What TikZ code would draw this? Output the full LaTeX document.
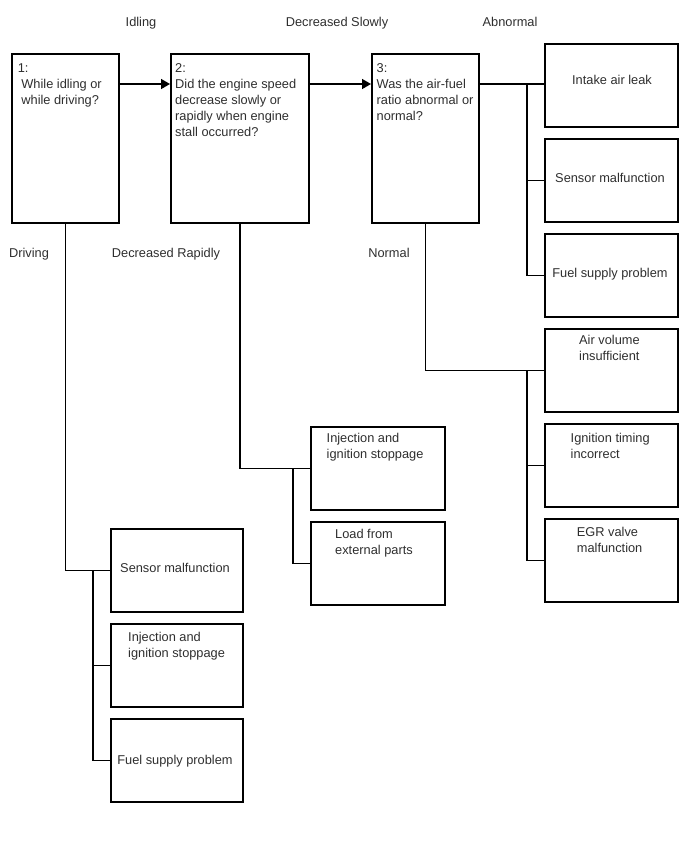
\documentclass[tikz,border=0pt]{standalone}
\usepackage{fontspec}
\setmainfont{Liberation Sans}
\usetikzlibrary{arrows.meta}
\begin{document}
\begin{tikzpicture}[x=1pt,y=-1pt,
  box/.style={draw=black, line width=1.8pt, inner sep=0pt, anchor=north west},
  qbox/.style={box, minimum width=107pt, minimum height=169pt},
  rbox/.style={box, minimum width=133pt, minimum height=83pt},
  mbox/.style={box, minimum width=134pt, minimum height=83pt},
  lbox/.style={box, minimum width=132pt, minimum height=83pt},
  txt/.style={text=black!82, inner sep=0pt, font=\fontsize{12.8}{16}\selectfont},
  ctxt/.style={txt, anchor=base},
  ltxt/.style={txt, anchor=base west, align=left},
  conn/.style={draw=black, line width=1.5pt},
  arr/.style={conn, -{Triangle[length=9pt,width=10pt]}}
]
\useasboundingbox (0,0) rectangle (688,852);
% question boxes
\node[qbox] (b1) at (11,53) {};
\node[qbox, minimum width=138pt] (b2) at (170,53) {};
\node[qbox] (b3) at (371,53) {};
% right column
\node[rbox] (ia) at (544,43) {};
\node[rbox] (sm) at (544,138) {};
\node[rbox] (fs) at (544,233) {};
\node[rbox] (av) at (544,328) {};
\node[rbox] (it) at (544,423) {};
\node[rbox] (egr) at (544,518) {};
% middle column
\node[mbox] (mi) at (310,426) {};
\node[mbox] (ml) at (310,521) {};
% left column
\node[lbox] (ls) at (110,528) {};
\node[lbox] (li) at (110,623) {};
\node[lbox] (lf) at (110,718) {};

% texts (anchor base = baseline of the last line)
\node[ltxt] (t1) at (17.6,104) {1:\\\hspace*{3.6pt}While idling or\\\hspace*{3.6pt}while driving?};
\node[ltxt] (t2) at (175,136) {2:\\Did the engine speed\\decrease slowly or\\rapidly when engine\\stall occurred?};
\node[ltxt] (t3) at (376.5,120) {3:\\Was the air-fuel\\ratio abnormal or\\normal?};
\node[ctxt] (tia) at (612,84) {Intake air leak};
\node[ctxt] (tsm) at (610,182) {Sensor malfunction};
\node[ctxt] (tfs) at (610,277) {Fuel supply problem};
\node[ltxt] (tav) at (579,360) {Air volume\\insufficient};
\node[ltxt] (tit) at (570.5,458) {Ignition timing\\incorrect};
\node[ltxt] (tegr) at (576.7,552.5) {EGR valve\\malfunction};
\node[ltxt] (tmi) at (326.5,458) {Injection and\\ignition stoppage};
\node[ltxt] (tml) at (335,554) {Load from\\external parts};
\node[ctxt] (tls) at (175,572) {Sensor malfunction};
\node[ltxt] (tli) at (128,657.7) {Injection and\\ignition stoppage};
\node[ctxt] (tlf) at (175,764) {Fuel supply problem};

% branch labels
\node[ctxt] (lidl) at (141,26) {Idling};
\node[ctxt] (lds) at (337,26) {Decreased Slowly};
\node[ctxt] (lab) at (510,26) {Abnormal};
\node[ctxt] (ldr) at (29,257) {Driving};
\node[ctxt] (ldra) at (166,257) {Decreased Rapidly};
\node[ctxt] (lno) at (389,257) {Normal};

% connectors
\draw[arr] ([yshift=-31pt]b1.north east) -- ([yshift=-31pt]b2.north west);
\draw[arr] ([yshift=-31pt]b2.north east) -- ([yshift=-31pt]b3.north west);
\draw[conn] ([yshift=-31pt]b3.north east) -- ([yshift=-31pt]b3.north east -| ia.west);
\coordinate (busA) at ([yshift=-31pt]b3.north east -| 527,0);
\draw[conn] (busA) |- (sm.west);
\draw[conn] (busA) |- (fs.west);

\draw[conn] (b3.south) |- (av.west);
\coordinate (busB) at ([xshift=-17pt]av.west);
\draw[conn] (busB) |- (it.west);
\draw[conn] (busB) |- (egr.west);

\draw[conn] (b2.south) |- (mi.west);
\coordinate (busC) at ([xshift=-17pt]mi.west);
\draw[conn] (busC) |- (ml.west);

\draw[conn] (b1.south) |- (ls.west);
\coordinate (busD) at ([xshift=-17pt]ls.west);
\draw[conn] (busD) |- (li.west);
\draw[conn] (busD) |- (lf.west);
\end{tikzpicture}
\end{document}
